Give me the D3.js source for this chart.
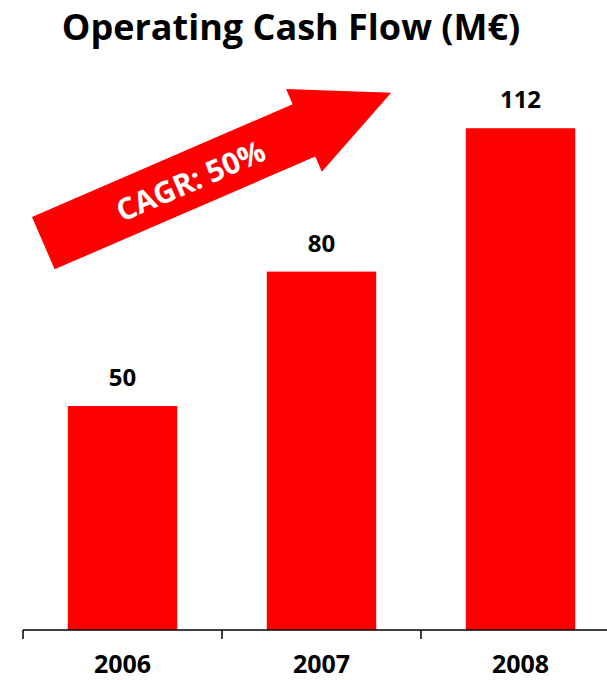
<!DOCTYPE html>
<html><head><meta charset="utf-8">
<script src="https://cdn.jsdelivr.net/npm/d3@7"></script>
<style>body{margin:0;background:#fff}svg{display:block}text{font-family:"Open Sans",sans-serif;font-weight:bold}</style>
</head><body>
<script>
const categories = ["2006", "2007", "2008"];
const values = [50, 80, 112];
const title = "Operating Cash Flow (M€)";
const annotation = "CAGR: 50%";

const W = 607, H = 680;
const svg = d3.select("body").append("svg").attr("width", W).attr("height", H);
const red = "#ff0000";
const baseY = 630;

const x = d3.scaleBand().domain(categories).range([23, 620]).paddingInner(0.45).paddingOuter(0.225);
const y = d3.scaleLinear().domain([0, 125]).range([baseY, baseY - 125 * 4.48]);

svg.append("text").attr("x", 291).attr("y", 40).attr("text-anchor", "middle")
  .attr("font-size", 36).attr("fill", "#000").text(title);

svg.selectAll("rect.bar").data(values).enter().append("rect").attr("class", "bar")
  .attr("x", (d, i) => x(categories[i])).attr("width", x.bandwidth())
  .attr("y", d => y(d)).attr("height", d => y(0) - y(d)).attr("fill", red);

svg.selectAll("text.val").data(values).enter().append("text").attr("class", "val")
  .attr("x", (d, i) => x(categories[i]) + x.bandwidth() / 2)
  .attr("y", d => y(d) - 20).attr("text-anchor", "middle").attr("font-size", 24)
  .attr("fill", "#000").text(d => d);

// axis: line with ticks at band boundaries
const ax = svg.append("g");
ax.append("line").attr("x1", 23).attr("x2", W).attr("y1", baseY).attr("y2", baseY)
  .attr("stroke", "#000").attr("stroke-width", 1.5);
const tickX = categories.map((c, i) => 23 + i * x.step());
ax.selectAll("line.tick").data(tickX).enter().append("line")
  .attr("x1", d => d).attr("x2", d => d).attr("y1", baseY).attr("y2", baseY + 9)
  .attr("stroke", "#000").attr("stroke-width", 1.5);
ax.selectAll("text.cat").data(categories).enter().append("text")
  .attr("x", d => x(d) + x.bandwidth() / 2).attr("y", 673).attr("text-anchor", "middle")
  .attr("font-size", 25).attr("fill", "#000").text(d => d);

// CAGR arrow annotation
const L = 284, Wd = 57, barb = 16.5, tip = 379;
const arrowPts = [[0, 0], [L, 0], [L, -barb], [tip, Wd / 2], [L, Wd + barb], [L, Wd], [0, Wd]];
const g = svg.append("g").attr("transform", "translate(32,217) rotate(-23.4)");
g.append("polygon").attr("points", arrowPts.map(p => p.join(",")).join(" ")).attr("fill", red);
g.append("text").attr("x", 160).attr("y", Wd / 2 + 12).attr("text-anchor", "middle")
  .attr("font-size", 30).attr("fill", "#fff").text(annotation);
</script>
</body></html>
